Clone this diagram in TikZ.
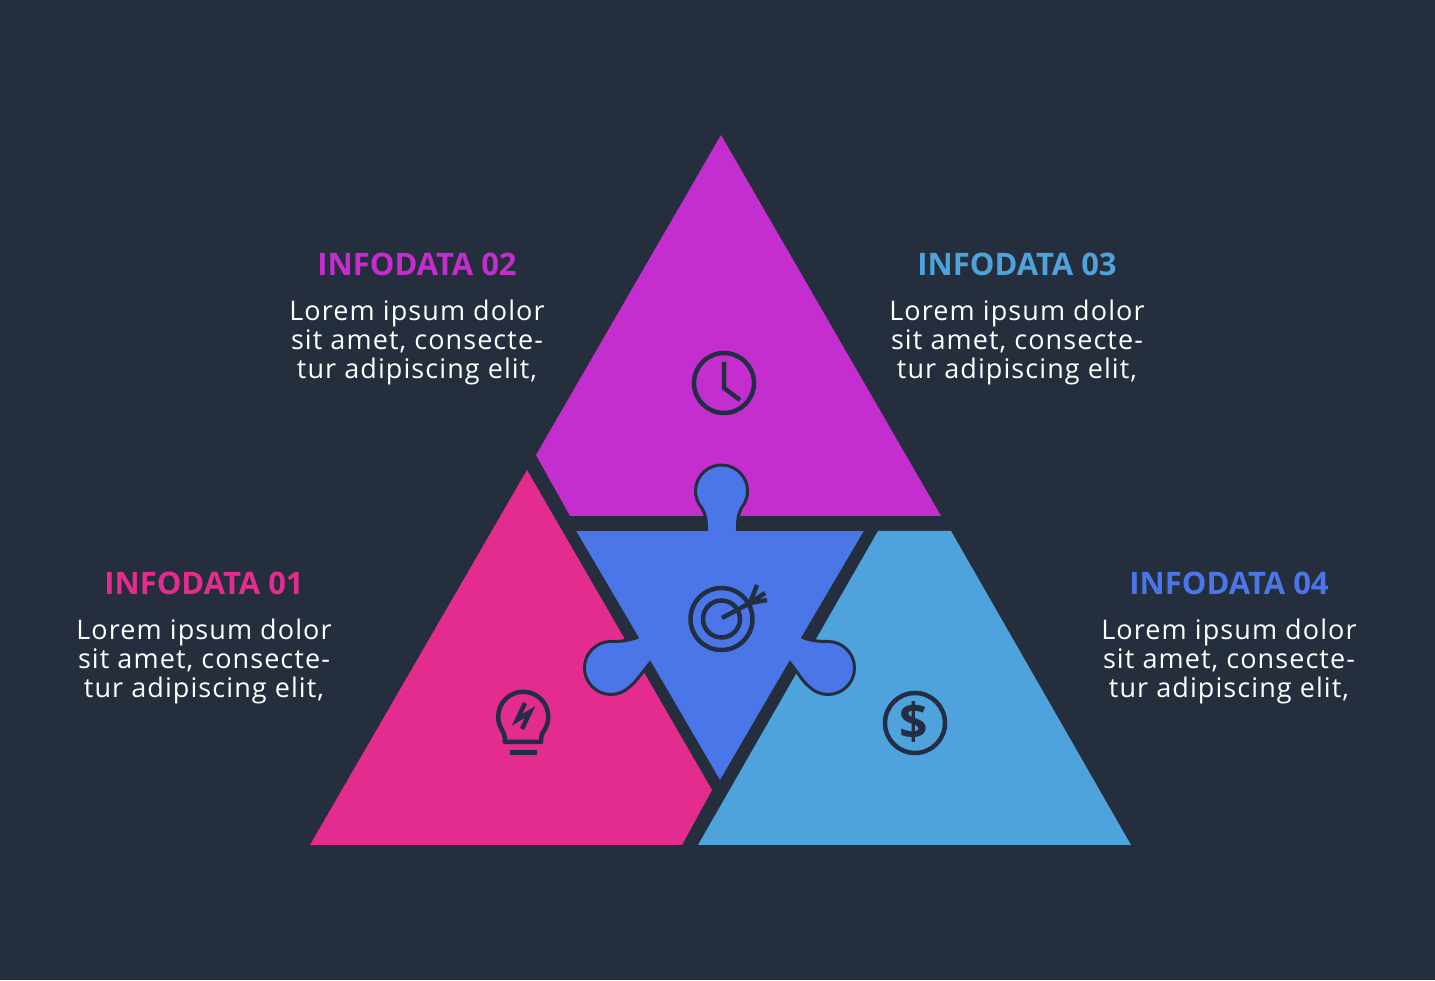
\documentclass[tikz,border=0pt]{standalone}
\usepackage{fontspec}
\usetikzlibrary{positioning}
\setmainfont{Open Sans}
\newfontfamily\bodyfont[LetterSpace=4]{Open Sans}

\definecolor{bgdark}{HTML}{252E3D}
\definecolor{icondark}{HTML}{232E45}
\definecolor{pinkfill}{HTML}{E42C8F}
\definecolor{purplefill}{HTML}{C42ECE}
\definecolor{bluefill}{HTML}{4A76E8}
\definecolor{skyfill}{HTML}{4EA3DC}

\begin{document}
\begin{tikzpicture}[
  x=1pt,y=1pt,
  title-text/.style={inner sep=0pt,font=\fontsize{31}{35}\selectfont\bfseries},
  body-text/.style={inner sep=0pt,align=center,text=white,below=24pt of #1,
    font=\fontsize{27}{29}\selectfont\bodyfont},
  icon-line/.style={draw=icondark,line width=4.5pt},
  ]

  \fill [bgdark] (0,0) rectangle (1435,980);
  \useasboundingbox (0,0) rectangle (1435,980);

  % triangle pieces
  \fill [purplefill] (721,845) -- (941,464) -- (570,464) -- (536,525) -- cycle;
  \fill [pinkfill] (527,510) -- (310,135) -- (682,135) -- (712,190) -- cycle;
  \fill [skyfill] (878,449) -- (951,449) -- (1131,135) -- (698,135) -- cycle;

  \filldraw [fill=bluefill,draw=bgdark,line width=3pt]
    (573.5,450.5) -- (706.5,450.5)
    .. controls (706.5,463) and (705,468) .. (699,476)
    arc [start angle=210,end angle=-30,radius=26]
    .. controls (738.5,468) and (737.5,463) .. (737.5,450.5)
    -- (866.5,450.5) -- (803,342.5)
    .. controls (811,339) and (819,338.5) .. (828,338.5)
    arc [start angle=90,end angle=-135,radius=26.5]
    .. controls (802,299) and (797,309) .. (790,317)
    -- (720,197) -- (650,317)
    .. controls (643,309) and (637,299) .. (629.7,293.3)
    arc [start angle=-45,end angle=-270,radius=26.5]
    .. controls (620,338.5) and (628,339) .. (637,342.5)
    -- cycle;

  % clock
  \draw [icon-line] (724,597) circle (30);
  \draw [icon-line] (724,618) -- (724,592) -- (740,580);

  % bulb
  \draw [icon-line,line join=round] (505,238)
    .. controls (505,246) and (503,248) .. (502,250)
    arc [start angle=212,end angle=-32,radius=25]
    .. controls (543,248) and (541,246) .. (541,238) -- cycle;
  \draw [icon-line] (509.5,227.5) -- (537,227.5);
  \draw [icon-line] (525,277) -- (517,260) -- (530,268) -- (522,251);

  % dollar
  \draw [icon-line] (915,257) circle (30);
  \node [inner sep=0pt,text=icondark,font=\fontsize{50}{50}\selectfont\bfseries] (dollar-sign) at (913.5,258) {\$};

  % target
  \draw [icon-line] (721.5,361) circle (31);
  \draw [icon-line] (721.5,361) circle (18.5);
  \draw [icon-line] (722,362) -- (750,377);
  \draw [icon-line] (750,377) -- (757,395);
  \draw [icon-line] (750,377) -- (765,387);
  \draw [icon-line] (750,377) -- (767,380);

  \node [title-text,text=pinkfill] (info01-title) at (204,397) {INFODATA 01};
  \node [body-text=info01-title] (info01-text) {Lorem ipsum dolor\\sit amet, consecte-\\tur adipiscing elit,};

  \node [title-text,text=purplefill] (info02-title) at (417,716) {INFODATA 02};
  \node [body-text=info02-title] (info02-text) {Lorem ipsum dolor\\sit amet, consecte-\\tur adipiscing elit,};

  \node [title-text,text=skyfill] (info03-title) at (1017,716) {INFODATA 03};
  \node [body-text=info03-title] (info03-text) {Lorem ipsum dolor\\sit amet, consecte-\\tur adipiscing elit,};

  \node [title-text,text=bluefill] (info04-title) at (1229,397) {INFODATA 04};
  \node [body-text=info04-title] (info04-text) {Lorem ipsum dolor\\sit amet, consecte-\\tur adipiscing elit,};

\end{tikzpicture}
\end{document}
